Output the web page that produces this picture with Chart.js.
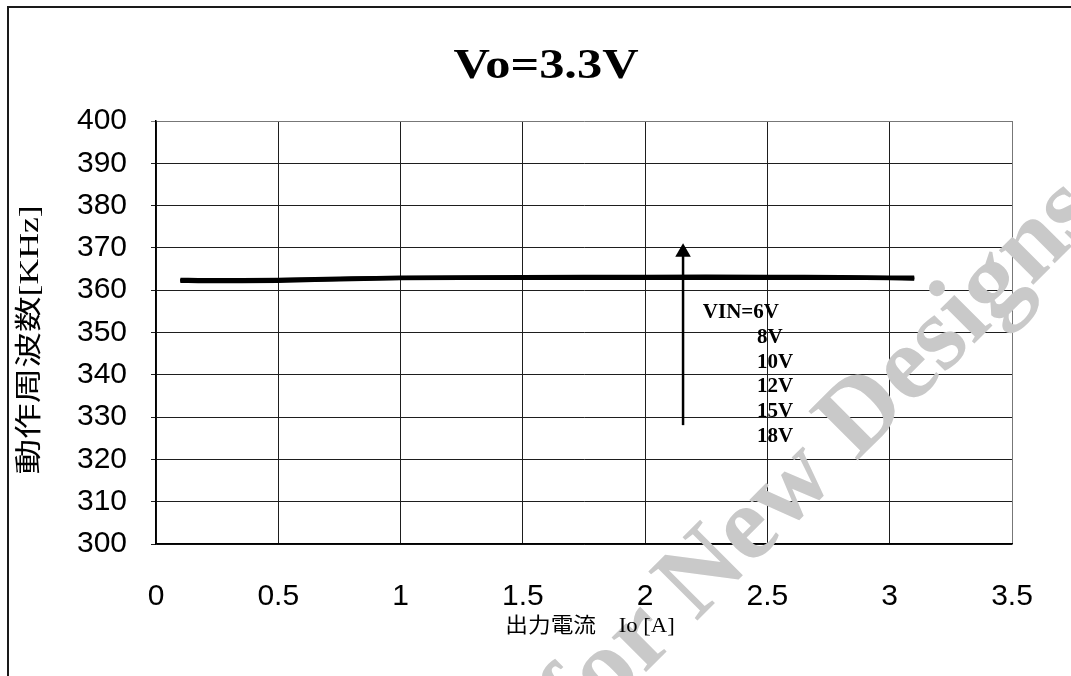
<!DOCTYPE html>
<html>
<head>
<meta charset="utf-8">
<title>Vo=3.3V</title>
<script src="https://cdn.jsdelivr.net/npm/chart.js@4.4.1/dist/chart.umd.min.js"></script>
<style>
  html, body { margin: 0; padding: 0; background: #fff; }
  #wrap { width: 1071px; height: 676px; position: relative; }
</style>
</head>
<body>
<div id="wrap"><canvas id="chart"></canvas></div>
<script>
// ─── Data ────────────────────────────────────────────────────────────

const ioA = [0.1, 0.2, 0.5, 0.8, 1.0, 1.5, 2.0, 2.5, 2.8, 3.0, 3.1];

const vin6  = [362.7, 362.6, 362.7, 363.0, 363.2, 363.3, 363.4, 363.4, 363.3, 363.2, 363.2];
const vin8  = [362.5, 362.5, 362.6, 362.9, 363.1, 363.2, 363.3, 363.3, 363.2, 363.1, 363.0];
const vin10 = [362.4, 362.3, 362.4, 362.8, 363.0, 363.1, 363.1, 363.1, 363.0, 362.9, 362.9];
const vin12 = [362.3, 362.2, 362.3, 362.6, 362.8, 362.9, 363.0, 363.0, 362.9, 362.8, 362.8];
const vin15 = [362.1, 362.1, 362.2, 362.5, 362.7, 362.8, 362.8, 362.8, 362.8, 362.7, 362.6];
const vin18 = [362.0, 361.9, 362.0, 362.4, 362.6, 362.7, 362.7, 362.7, 362.7, 362.6, 362.5];

const seriesNames = ['VIN=6V', '8V', '10V', '12V', '15V', '18V'];

// arrow (Io, kHz) : tail then head
const arrowX = [2.155, 2.155];
const arrowY = [328.1, 369.0];

// VIN label positions in data units
const labelX = [2.236, 2.457, 2.457, 2.457, 2.457, 2.457];
const labelY = [354.7, 348.8, 342.9, 337.2, 331.3, 325.4];

const xTicks = [0, 0.5, 1, 1.5, 2, 2.5, 3, 3.5];
const yTicks = [300, 310, 320, 330, 340, 350, 360, 370, 380, 390, 400];

const chartTitle = 'Vo=3.3V';
const xTitle = '出力電流　Io [A]';
const yTitle = '動作周波数[KHz]';
const watermark = 'Not Recommended for New Designs';

// ─── Helpers ─────────────────────────────────────────────────────────

function toPoints(xs, ys) {
  return xs.map((x, i) => ({ x, y: ys[i] }));
}

function lineSet(label, ys) {
  return {
    label,
    data: toPoints(ioA, ys),
    borderColor: '#000',
    backgroundColor: '#000',
    borderWidth: 2.3,
    pointRadius: 0,
    tension: 0.3,
  };
}

// text stretched along its own direction, like the source document
function stretchedText(ctx, text, x, y, rot, sx, font) {
  ctx.save();
  ctx.translate(x, y);
  ctx.rotate(rot);
  ctx.scale(sx, 1);
  ctx.font = font;
  ctx.fillText(text, 0, 0);
  ctx.restore();
}

// ─── Plugins ─────────────────────────────────────────────────────────

const framePlugin = {
  id: 'frame',
  beforeDraw(chart) {
    const ctx = chart.ctx;
    ctx.save();
    ctx.fillStyle = '#fff';
    ctx.fillRect(0, 0, chart.width, chart.height);
    ctx.strokeStyle = '#1a1a1a';
    ctx.lineWidth = 2;
    ctx.strokeRect(8, 7, 1200, 1200);
    ctx.restore();
  },
};

const titlesPlugin = {
  id: 'titles',
  afterDraw(chart) {
    const { ctx, chartArea } = chart;
    ctx.save();
    ctx.fillStyle = '#000';
    ctx.textAlign = 'center';
    ctx.textBaseline = 'alphabetic';
    stretchedText(ctx, chartTitle, 546, 78, 0, 1.2,
      'bold 42px "Liberation Serif", "DejaVu Serif", serif');
    ctx.textBaseline = 'middle';
    stretchedText(ctx, yTitle, 31, 340, -Math.PI / 2, 1.32,
      '27px "Liberation Serif", "Noto Sans CJK JP", serif');
    stretchedText(ctx, xTitle, (chartArea.left + chartArea.right) / 2 + 6, 626, 0, 1.08,
      '21px "Liberation Serif", "Noto Sans CJK JP", serif');
    ctx.restore();
  },
};

const labelPlugin = {
  id: 'vinLabels',
  afterDatasetsDraw(chart) {
    const { ctx, scales: { x, y } } = chart;
    ctx.save();
    ctx.fillStyle = '#000';
    ctx.font = 'bold 21px "Liberation Serif", "DejaVu Serif", serif';
    ctx.textAlign = 'left';
    ctx.textBaseline = 'middle';
    seriesNames.forEach((name, i) => {
      ctx.fillText(name, x.getPixelForValue(labelX[i]), y.getPixelForValue(labelY[i]));
    });
    ctx.restore();
  },
};

const watermarkPlugin = {
  id: 'watermark',
  beforeDatasetsDraw(chart) {
    const ctx = chart.ctx;
    ctx.save();
    ctx.translate(1102, 216);
    ctx.rotate(-Math.PI / 4);
    ctx.fillStyle = '#c9c9c9';
    ctx.font = 'bold 106px "Liberation Serif", "DejaVu Serif", serif';
    ctx.textAlign = 'right';
    ctx.textBaseline = 'alphabetic';
    ctx.fillText(watermark, 0, 0);
    ctx.restore();
  },
};

// ─── Chart ───────────────────────────────────────────────────────────

const gridColor = '#1e1e1e';

new Chart(document.getElementById('chart').getContext('2d'), {
  type: 'line',
  data: {
    datasets: [
      lineSet(seriesNames[0], vin6),
      lineSet(seriesNames[1], vin8),
      lineSet(seriesNames[2], vin10),
      lineSet(seriesNames[3], vin12),
      lineSet(seriesNames[4], vin15),
      lineSet(seriesNames[5], vin18),
      {
        label: 'arrow',
        data: toPoints(arrowX, arrowY),
        borderColor: '#000',
        backgroundColor: '#000',
        borderWidth: 2.5,
        pointStyle: 'triangle',
        pointRadius: [0, 9],
        pointBorderWidth: 0,
        tension: 0,
      },
    ],
  },
  options: {
    responsive: true,
    maintainAspectRatio: false,
    animation: false,
    events: [],
    layout: { padding: { left: 0, right: 59, top: 121, bottom: 0 } },
    plugins: {
      legend: { display: false },
      tooltip: { enabled: false },
      title: { display: false },
    },
    scales: {
      x: {
        type: 'linear',
        min: 0,
        max: 3.5,
        afterBuildTicks: s => { s.ticks = xTicks.map(v => ({ value: v })); },
        afterFit: s => { s.height = 132; },
        grid: {
          color: ctx => (ctx.tick && ctx.tick.value === 3.5 ? '#777' : gridColor),
          lineWidth: 1,
          drawTicks: false,
        },
        border: { color: '#000', width: 1.5 },
        ticks: {
          color: '#000',
          padding: 35,
          maxRotation: 0,
          font: { family: '"Liberation Sans", Arial, sans-serif', size: 30 },
          callback: v => String(v),
        },
      },
      y: {
        type: 'linear',
        min: 300,
        max: 400,
        afterBuildTicks: s => { s.ticks = yTicks.map(v => ({ value: v })); },
        afterFit: s => { s.width = 156; },
        grid: {
          color: ctx => (ctx.tick && ctx.tick.value === 400 ? '#777' : gridColor),
          lineWidth: 1,
          tickLength: 5,
        },
        border: { color: '#000', width: 1.5 },
        ticks: {
          color: '#000',
          padding: 24,
          font: { family: '"Liberation Sans", Arial, sans-serif', size: 30 },
        },
      },
    },
  },
  plugins: [framePlugin, watermarkPlugin, labelPlugin, titlesPlugin],
});
</script>
</body>
</html>
